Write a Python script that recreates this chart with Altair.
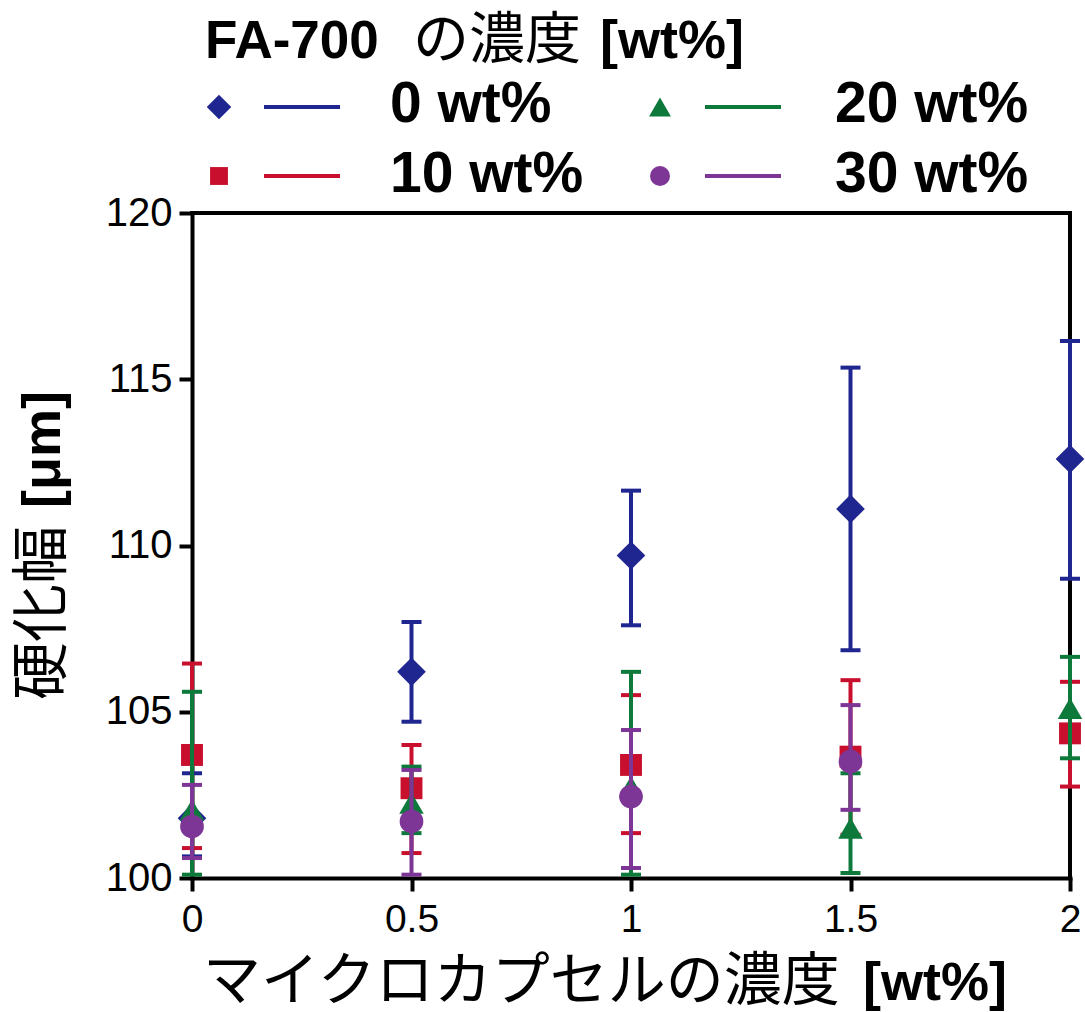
import altair as alt
import pandas as pd

# ---------------- data ----------------
series = ["0 wt%", "10 wt%", "20 wt%", "30 wt%"]
colors = ["#1f2690", "#c8102e", "#0d7a3c", "#7d3596"]
shapes = ["diamond", "square", "triangle-up", "circle"]
marker_sizes = [820, 480, 600, 560]
legend_sizes = [600, 320, 480, 400]

x_vals = [0, 0.5, 1, 1.5, 2]
means = [
    [101.8, 106.2, 109.7, 111.1, 112.6],
    [103.7, 102.7, 103.4, 103.65, 104.35],
    [102.05, 102.25, 102.75, 101.5, 105.1],
    [101.55, 101.7, 102.45, 103.5, None],
]
upper = [
    [103.15, 107.7, 111.65, 115.35, 116.15],
    [106.45, 104.0, 105.5, 105.95, 105.9],
    [105.6, 103.35, 106.2, 103.15, 106.65],
    [102.8, 103.25, 104.45, 105.2, None],
]
lower = [
    [100.65, 104.7, 107.6, 106.85, 109.0],
    [100.9, 100.75, 101.35, 101.3, 102.75],
    [100.1, 101.35, 100.1, 100.15, 103.6],
    [100.6, 100.1, 100.3, 102.05, None],
]

x_ticks = [0, 0.5, 1, 1.5, 2]
y_ticks = [100, 105, 110, 115, 120]

legend_title_parts = ["FA-700", "の濃度", "[wt%]"]
x_title_parts = ["マイクロカプセルの濃度", "[wt%]"]
y_title_parts = ["硬化幅", "[μm]"]

# ---------------- layout ----------------
W, H = 878, 665
PAD_L, PAD_T, PAD_R, PAD_B = 192, 213, 15, 134
LATIN = "Liberation Sans"
CJK = "Noto Sans CJK JP"

xscale = alt.Scale(domain=[0, 2], nice=False, zero=False)
yscale = alt.Scale(domain=[100, 120], nice=False, zero=False)

xaxis = alt.Axis(
    values=x_ticks, format="~g", title=None, grid=False,
    domain=True, domainColor="black", domainWidth=4, domainCap="square",
    ticks=True, tickColor="black", tickWidth=4, tickSize=13,
    labelFont=LATIN, labelFontSize=39, labelColor="black", labelPadding=9,
    labelFlush=False, zindex=0,
)
yaxis = alt.Axis(
    values=y_ticks, format="d", title=None, grid=False,
    domain=True, domainColor="black", domainWidth=4, domainCap="square",
    ticks=True, tickColor="black", tickWidth=4, tickSize=13,
    labelFont=LATIN, labelFontSize=40, labelColor="black", labelPadding=7,
    labelFlush=False, zindex=0,
)

rows = []
for i, s in enumerate(series):
    for j, xv in enumerate(x_vals):
        if means[i][j] is None:
            continue
        rows.append({"series": s, "x": xv, "mean": means[i][j],
                     "hi": upper[i][j], "lo": lower[i][j]})
df = pd.DataFrame(rows)

frame_df = pd.DataFrame({"k": [0]})
layers = [
    alt.Chart(frame_df).mark_rule(color="black", strokeWidth=4, strokeCap="square").encode(
        x=alt.value(0), x2=alt.value(W), y=alt.value(0)),
    alt.Chart(frame_df).mark_rule(color="black", strokeWidth=4, strokeCap="square").encode(
        x=alt.value(W), y=alt.value(0), y2=alt.value(H)),
]

X = alt.X("x:Q", scale=xscale, axis=xaxis)
for i, s in enumerate(series):
    base = alt.Chart(df[df["series"] == s])
    c = colors[i]
    layers.append(base.mark_rule(color=c, strokeWidth=4).encode(
        x=X, y=alt.Y("lo:Q", scale=yscale, axis=yaxis), y2="hi:Q"))
    layers.append(base.mark_tick(color=c, orient="horizontal", size=20, thickness=4, opacity=1).encode(
        x=X, y=alt.Y("hi:Q", scale=yscale, axis=yaxis)))
    layers.append(base.mark_tick(color=c, orient="horizontal", size=20, thickness=4, opacity=1).encode(
        x=X, y=alt.Y("lo:Q", scale=yscale, axis=yaxis)))
    layers.append(base.mark_point(filled=True, opacity=1, color=c, shape=shapes[i],
                                  size=marker_sizes[i], strokeWidth=0).encode(
        x=X, y=alt.Y("mean:Q", scale=yscale, axis=yaxis)))

# ---------------- custom legend ----------------
col_sym_x = [219 - PAD_L, 660 - PAD_L]
col_line_x = [(264 - PAD_L, 340 - PAD_L), (705 - PAD_L, 781 - PAD_L)]
col_text_x = [390 - PAD_L, 835 - PAD_L]
row_y = [107 - PAD_T, 176 - PAD_T]
row_text_y = [122 - PAD_T, 192 - PAD_T]

leg_rows = []
for i, s in enumerate(series):
    col, row = i // 2, i % 2
    leg_rows.append({
        "series": s, "color": colors[i], "shape": shapes[i], "size": legend_sizes[i],
        "sx": col_sym_x[col], "sy": row_y[row],
        "lx1": col_line_x[col][0], "lx2": col_line_x[col][1],
        "tx": col_text_x[col], "ty": row_text_y[row],
    })
leg = pd.DataFrame(leg_rows)

layers.append(alt.Chart(leg).mark_point(filled=True, opacity=1, strokeWidth=0).encode(
    x=alt.X("sx:Q", scale=None, axis=None), y=alt.Y("sy:Q", scale=None, axis=None),
    color=alt.Color("color:N", scale=None, legend=None),
    shape=alt.Shape("shape:N", scale=None, legend=None),
    size=alt.Size("size:Q", scale=None, legend=None)))
layers.append(alt.Chart(leg).mark_rule(strokeWidth=4).encode(
    x=alt.X("lx1:Q", scale=None, axis=None), x2="lx2:Q",
    y=alt.Y("sy:Q", scale=None, axis=None),
    color=alt.Color("color:N", scale=None, legend=None)))
layers.append(alt.Chart(leg).mark_text(font=LATIN, fontSize=57, fontWeight="bold",
                                       align="left", baseline="alphabetic", color="black").encode(
    x=alt.X("tx:Q", scale=None, axis=None), y=alt.Y("ty:Q", scale=None, axis=None),
    text="series:N"))

def text_layer(txt, x, y, font, size, weight="normal", angle=0, baseline="alphabetic"):
    d = pd.DataFrame({"t": [txt]})
    kw = dict(font=font, fontSize=size, fontWeight=weight, align="left",
              baseline=baseline, color="black")
    if angle:
        kw["angle"] = angle
    return alt.Chart(d).mark_text(**kw).encode(
        x=alt.value(x), y=alt.value(y), text="t:N")

# legend title
layers.append(text_layer(legend_title_parts[0], 205 - PAD_L, 58 - PAD_T, LATIN, 53, "bold"))
layers.append(text_layer(legend_title_parts[1], 413 - PAD_L, 58 - PAD_T, CJK, 56))
layers.append(text_layer(legend_title_parts[2], 600 - PAD_L, 58 - PAD_T, LATIN, 54, "bold"))

# x title
layers.append(text_layer(x_title_parts[0], 203 - PAD_L, 1000 - PAD_T, CJK, 58))
layers.append(text_layer(x_title_parts[1], 863 - PAD_L, 1000 - PAD_T, LATIN, 54, "bold"))

# y title (rotated)
layers.append(text_layer(y_title_parts[0], 44 - PAD_L, 700 - PAD_T, CJK, 58, angle=270, baseline="middle"))
layers.append(text_layer(y_title_parts[1], 44 - PAD_L, 508 - PAD_T, LATIN, 54, "bold", angle=270, baseline="middle"))

chart = alt.layer(*layers).properties(
    width=W, height=H,
    autosize=alt.AutoSizeParams(type="none"),
    padding={"left": PAD_L, "top": PAD_T, "right": PAD_R, "bottom": PAD_B},
    background="white",
).configure_view(stroke=None)

chart.save("out.html", embed_options={"renderer": "svg", "actions": False})
